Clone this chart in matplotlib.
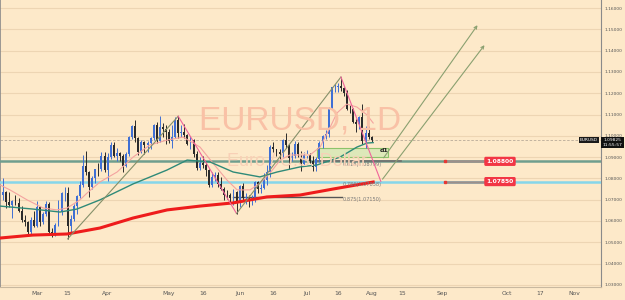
import matplotlib
matplotlib.use("Agg")
import matplotlib.pyplot as plt
import numpy as np
import pandas as pd

# daily EURUSD candles, 2023-02-14 .. 2023-08-01 (business days)
start_date = "2023-02-14"
opens = [1.0722, 1.0737, 1.0688, 1.0676, 1.0694, 1.0686, 1.0648, 1.0605, 1.0596, 1.0547, 1.0607,
         1.0576, 1.0668, 1.0597, 1.0633, 1.0682, 1.0548, 1.0545, 1.0582, 1.0640, 1.0730, 1.0730, 1.0577,
         1.0610, 1.0670, 1.0718, 1.0770, 1.0858, 1.0830, 1.0760, 1.0800, 1.0845, 1.0842, 1.0905,
         1.0839, 1.0900, 1.0955, 1.0907, 1.0921, 1.0903, 1.0860, 1.0915, 1.0995, 1.1047, 1.0992, 1.0925,
         1.0970, 1.0958, 1.0965, 1.0990, 1.1050, 1.0975, 1.1041, 1.1030,
         1.1018, 1.0975, 1.0995, 1.1075, 1.1011, 1.1018, 1.1005, 1.0961, 1.0982, 1.0915, 1.0849, 1.0873,
         1.0862, 1.0840, 1.0771, 1.0805, 1.0814, 1.0772, 1.0752, 1.0724, 1.0722, 1.0707, 1.0734,
         1.0688, 1.0762, 1.0707, 1.0712, 1.0693, 1.0698, 1.0782, 1.0749, 1.0755, 1.0792, 1.0831, 1.0946,
         1.0939, 1.0923, 1.0916, 1.0982, 1.0955, 1.0894, 1.0906, 1.0962, 1.0913, 1.0867,
         1.0909, 1.0911, 1.0881, 1.0852, 1.0890, 1.0968, 1.0998, 1.1008, 1.1129, 1.1228, 1.1228, 1.1236,
         1.1226, 1.1201, 1.1128, 1.1124, 1.1063, 1.1055, 1.1087, 1.0975, 1.1015,
         1.0995]
highs = [1.0804, 1.0740, 1.0736, 1.0697, 1.0720, 1.0707, 1.0669, 1.0628, 1.0600, 1.0620, 1.0645,
         1.0692, 1.0670, 1.0640, 1.0694, 1.0690, 1.0566, 1.0590, 1.0700, 1.0735, 1.0760, 1.0760, 1.0630,
         1.0680, 1.0720, 1.0788, 1.0912, 1.0930, 1.0837, 1.0810, 1.0845, 1.0870, 1.0925, 1.0925,
         1.0920, 1.0973, 1.0970, 1.0941, 1.0925, 1.0915, 1.0925, 1.0998, 1.1050, 1.1075, 1.0995, 1.0980,
         1.0975, 1.0975, 1.0995, 1.1055, 1.1065, 1.1095, 1.1060, 1.1050,
         1.1030, 1.1050, 1.1090, 1.1092, 1.1050, 1.1055, 1.1010, 1.1000, 1.0985, 1.0930, 1.0900, 1.0905,
         1.0875, 1.0845, 1.0830, 1.0830, 1.0830, 1.0805, 1.0760, 1.0745, 1.0730, 1.0750, 1.0740,
         1.0770, 1.0780, 1.0730, 1.0720, 1.0720, 1.0790, 1.0790, 1.0775, 1.0823, 1.0865, 1.0955, 1.0972,
         1.0940, 1.0940, 1.0985, 1.1012, 1.0960, 1.0925, 1.0976, 1.0970, 1.0930, 1.0925,
         1.0935, 1.0920, 1.0905, 1.0900, 1.0975, 1.1005, 1.1025, 1.1135, 1.1230, 1.1245, 1.1250, 1.1276,
         1.1230, 1.1215, 1.1145, 1.1130, 1.1080, 1.1095, 1.1150, 1.1045, 1.1045,
         1.1000]
lows = [1.0700, 1.0660, 1.0665, 1.0613, 1.0675, 1.0643, 1.0595, 1.0577, 1.0533, 1.0536, 1.0570,
        1.0571, 1.0577, 1.0587, 1.0624, 1.0535, 1.0524, 1.0530, 1.0578, 1.0630, 1.0695, 1.0516, 1.0550,
        1.0600, 1.0635, 1.0710, 1.0760, 1.0815, 1.0715, 1.0750, 1.0780, 1.0810, 1.0835, 1.0830,
        1.0788, 1.0890, 1.0900, 1.0880, 1.0880, 1.0832, 1.0855, 1.0905, 1.0985, 1.0970, 1.0910, 1.0920,
        1.0915, 1.0922, 1.0937, 1.0980, 1.0965, 1.0970, 1.0995, 1.0962,
        1.0967, 1.0942, 1.0990, 1.0990, 1.0995, 1.0990, 1.0955, 1.0940, 1.0900, 1.0840, 1.0840, 1.0850,
        1.0810, 1.0760, 1.0760, 1.0790, 1.0760, 1.0745, 1.0700, 1.0705, 1.0680, 1.0675, 1.0635,
        1.0665, 1.0700, 1.0680, 1.0665, 1.0675, 1.0690, 1.0730, 1.0730, 1.0750, 1.0770, 1.0805, 1.0925,
        1.0905, 1.0890, 1.0900, 1.0945, 1.0845, 1.0880, 1.0895, 1.0900, 1.0835, 1.0860,
        1.0895, 1.0870, 1.0835, 1.0833, 1.0875, 1.0945, 1.0985, 1.0995, 1.1125, 1.1205, 1.1205, 1.1210,
        1.1185, 1.1120, 1.1105, 1.1060, 1.1020, 1.1030, 1.0960, 1.0945, 1.0985,
        1.0970]
closes = [1.0737, 1.0688, 1.0676, 1.0694, 1.0686, 1.0648, 1.0605, 1.0596, 1.0547, 1.0607, 1.0576,
          1.0668, 1.0597, 1.0633, 1.0682, 1.0548, 1.0545, 1.0582, 1.0640, 1.0730, 1.0730, 1.0577, 1.0610,
          1.0670, 1.0718, 1.0770, 1.0858, 1.0830, 1.0760, 1.0800, 1.0845, 1.0842, 1.0905, 1.0839,
          1.0900, 1.0955, 1.0907, 1.0921, 1.0903, 1.0860, 1.0915, 1.0995, 1.1047, 1.0992, 1.0925, 1.0970,
          1.0958, 1.0965, 1.0990, 1.1050, 1.0975, 1.1041, 1.1030, 1.1018,
          1.0975, 1.0995, 1.1075, 1.1011, 1.1018, 1.1005, 1.0961, 1.0982, 1.0915, 1.0849, 1.0873, 1.0862,
          1.0840, 1.0771, 1.0805, 1.0814, 1.0772, 1.0752, 1.0724, 1.0722, 1.0707, 1.0734, 1.0688,
          1.0762, 1.0707, 1.0712, 1.0693, 1.0698, 1.0782, 1.0749, 1.0755, 1.0792, 1.0831, 1.0946, 1.0939,
          1.0923, 1.0916, 1.0982, 1.0955, 1.0894, 1.0906, 1.0962, 1.0913, 1.0867, 1.0909,
          1.0911, 1.0881, 1.0852, 1.0890, 1.0968, 1.0998, 1.1008, 1.1129, 1.1228, 1.1228, 1.1236, 1.1226,
          1.1201, 1.1128, 1.1124, 1.1063, 1.1055, 1.1087, 1.0975, 1.1015, 1.0995,
          1.0982]

# moving averages (bar index, price)
ma_fast_bar = [-1.0, 2.2, 7.8, 13.0, 17.5, 20.8, 25.0, 27.3, 31.5, 37.1, 42.3, 47.8, 53.4, 58.6, 64.1,
               68.3, 72.9, 76.2, 80.4, 83.7, 86.9, 90.2, 93.4, 99.9, 103.2, 106.5, 108.7, 111.9, 115.2,
               118.5, 120.5]
ma_fast_val = [1.0769, 1.0746, 1.0699, 1.0661, 1.0652, 1.0661, 1.0699, 1.0731, 1.0783, 1.0830, 1.0900,
               1.0957, 1.0980, 1.0994, 1.0947, 1.0872, 1.0792, 1.0746, 1.0746, 1.0778, 1.0825, 1.0886,
               1.0910, 1.0910, 1.0947, 1.1041, 1.1107, 1.1149, 1.1135, 1.1098, 1.1060]
ma_mid_bar = [-1.0, 9.7, 18.5, 24.0, 31.5, 42.3, 53.3, 59.9, 67.4, 74.9, 83.6, 89.2, 96.7, 102.2,
              109.7, 115.2, 118.5, 120.5]
ma_mid_val = [1.0670, 1.0656, 1.0642, 1.0656, 1.0699, 1.0774, 1.0839, 1.0886, 1.0877, 1.0830, 1.0807,
              1.0830, 1.0854, 1.0863, 1.0900, 1.0947, 1.0966, 1.0968]
ma_slow_bar = [-1.0, 9.7, 20.8, 31.5, 42.3, 53.4, 64.1, 74.9, 85.9, 96.7, 107.4, 120.5]
ma_slow_val = [1.0520, 1.0534, 1.0539, 1.0567, 1.0614, 1.0652, 1.0670, 1.0685, 1.0713, 1.0722, 1.0750,
               1.0783]

# zigzag swing points and projection arrows
swing_bar = [21, 57, 76, 110, 123]
swing_val = [1.0516, 1.1092, 1.0635, 1.1276, 1.0786]
arrow_start = [(123.4, 1.0886), (123.0, 1.0786)]
arrow_end = [(155.0, 1.1530), (157.3, 1.1436)]

levels = [1.08800, 1.07850]
fib_labels = ["0.618(1.08799)", "0.786(1.07858)", "0.875(1.07150)"]
fib_vals = [1.08799, 1.07858, 1.07150]
last_price = 1.09825

tick_dates = ["2023-03-01", "2023-03-15", "2023-04-03", "2023-05-01", "2023-05-16", "2023-06-01",
              "2023-06-16", "2023-07-03", "2023-07-17", "2023-08-01", "2023-08-15", "2023-09-01",
              "2023-10-02", "2023-10-17", "2023-11-01"]
tick_text = ["Mar", "15", "Apr", "May", "16", "Jun", "16", "Jul", "16", "Aug", "15", "Sep", "Oct",
             "17", "Nov"]
price_ticks = np.round(np.arange(1.03, 1.1601, 0.01), 2)

bg = "#fde9c9"
fig = plt.figure(figsize=(6.25, 3.0), dpi=100, facecolor=bg)
ax = fig.add_axes([0, 13 / 300, 601 / 625, 287 / 300], facecolor=bg)

all_days = pd.bdate_range(start_date, periods=260)
pos = {d.strftime("%Y-%m-%d"): i for i, d in enumerate(all_days)}
x = np.arange(len(closes))
o = np.array(opens); h = np.array(highs); l = np.array(lows); c = np.array(closes)
up = c >= o
up_col, dn_col = "#3f6fd4", "#2b2b2b"
cols = np.where(up, up_col, dn_col)

ax.vlines(x, l, h, colors=cols, lw=0.7, zorder=4)
ax.bar(x, np.maximum(np.abs(c - o), 0.00012), bottom=np.minimum(o, c), width=0.62,
       color=cols, zorder=5, linewidth=0)

# watermark
fig.text(300 / 625, 1 - 121 / 300, "EURUSD, 1D", ha="center", va="center", fontsize=24,
         family="Liberation Sans", color="#f9c1a6", zorder=0)
fig.text(297 / 625, 1 - 161 / 300, "Euro / U.S. Dollar", ha="center", va="center", fontsize=13,
         family="Liberation Sans", color="#f8d0b6", zorder=0)

# moving averages
ax.plot(ma_fast_bar, ma_fast_val, color="#f4a3a0", lw=0.8, zorder=6)
ax.plot(ma_mid_bar, ma_mid_val, color="#2f8a78", lw=1.0, zorder=6)
ax.plot(ma_slow_bar, ma_slow_val, color="#ee1c1c", lw=2.2, zorder=6)

# horizontal levels
ax.axhline(levels[0], color="#6f9e8e", lw=1.8, zorder=3)
ax.axhline(levels[1], color="#86d6ea", lw=1.8, zorder=3)
for lv in levels:
    ax.plot([143.9, 157.0], [lv, lv], color="#9c8f8a", lw=1.8, zorder=3.5)
    ax.plot([143.9], [lv], marker="s", ms=1.5, color="#e53935", zorder=3.6)
    ax.text(161.8, lv, f"{lv:.5f}", ha="center", va="center", fontsize=4.3, color="white",
            fontweight="bold", zorder=9,
            bbox=dict(boxstyle="round,pad=0.35,rounding_size=0.25", fc="#f23645", ec="none"))

# last price dashed line
ax.axhline(last_price, color="#b8aa98", lw=0.6, ls=(0, (3, 2)), zorder=2)

# fib lines and labels
ax.plot([102.2, 129.5], [fib_vals[0], fib_vals[0]], color="#6e6e6e", lw=1.2, zorder=3.8)
ax.plot([74.9, 110.4], [fib_vals[2], fib_vals[2]], color="#555555", lw=1.0, zorder=3.8)
for lab, v in zip(fib_labels, fib_vals):
    ax.text(110.7, v - 0.0015, lab, ha="left", va="center", fontsize=3.6, color="#7a7a7a", zorder=7)

# green box with d1
ax.fill_between([102.2, 125.3], 1.0899, 1.0941, color="#d3e8b4", alpha=0.75, lw=0, zorder=3.9)
ax.plot([102.2, 125.3, 125.3, 102.2, 102.2], [1.0899, 1.0899, 1.0941, 1.0941, 1.0899],
        color="#8cc36a", lw=0.8, zorder=3.95)
ax.text(124.0, 1.0930, "d1", ha="center", va="center", fontsize=4.5, fontweight="bold",
        color="#222222", zorder=8)

# zigzag pattern
olive = "#85906a"
pink = "#f0649a"
for i in range(len(swing_bar) - 1):
    col = olive if i % 2 == 0 else pink
    ax.plot(swing_bar[i:i + 2], swing_val[i:i + 2], color=col, lw=0.8, zorder=7)
for (sx, sy), (ex, ey) in zip(arrow_start, arrow_end):
    ax.annotate("", xy=(ex, ey), xytext=(sx, sy),
                arrowprops=dict(arrowstyle="->", color="#8aa070", lw=0.8, mutation_scale=5),
                zorder=7)

# axes formatting
ax.set_xlim(-1.04, 194.7)
ax.set_ylim(1.02901, 1.16376)
ax.set_yticks(price_ticks)
ax.set_yticklabels([f"{v:.5f}" for v in price_ticks])
ax.yaxis.tick_right()
ax.tick_params(axis="y", length=0, labelsize=3.2, labelcolor="#555555", pad=2.5)
ax.set_xticks([pos[d] for d in tick_dates])
ax.set_xticklabels(tick_text)
ax.tick_params(axis="x", length=0, labelsize=4.3, labelcolor="#555555", pad=3)
ax.grid(axis="y", color="#edd5b3", lw=0.8, zorder=0)
ax.set_axisbelow(True)
ax.spines["top"].set_visible(False)
ax.spines["left"].set_color("#8a8a8a")
ax.spines["right"].set_color("#8a8a8a")
ax.spines["bottom"].set_color("#c8b89f")
ax.spines["left"].set_linewidth(1.2)
ax.spines["right"].set_linewidth(0.8)

# last price tags
fig.text(589 / 625, 1 - 140 / 300, "EURUSD", ha="center", va="center", fontsize=3.2,
         color="white", bbox=dict(boxstyle="square,pad=0.3", fc="#1a1a1a", ec="none"))
fig.text(612.5 / 625, 1 - 142.5 / 300, "1.09825\n11:55:57", ha="center", va="center", fontsize=3.2,
         color="white", linespacing=1.1, bbox=dict(boxstyle="square,pad=0.3", fc="#111111", ec="none"))

plt.savefig("out.png", dpi=100, facecolor=bg)
